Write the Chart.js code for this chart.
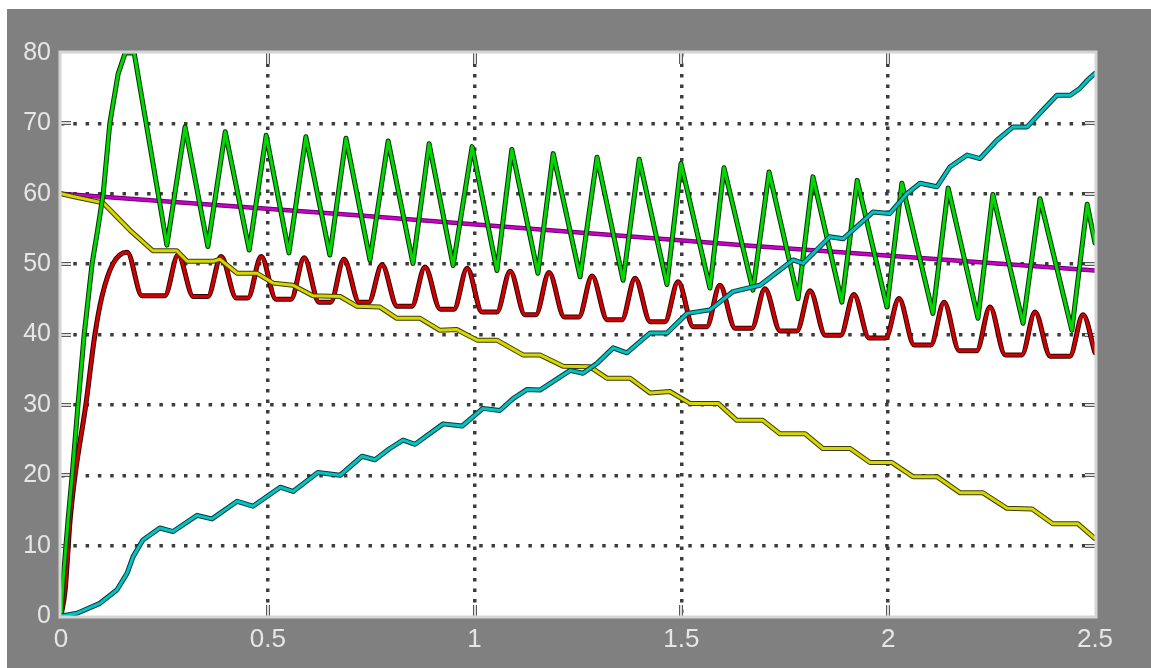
<!DOCTYPE html>
<html>
<head>
<meta charset="utf-8">
<script src="https://cdn.jsdelivr.net/npm/chart.js@4.4.1/dist/chart.umd.min.js"></script>
<style>
html,body{margin:0;padding:0;background:#fff;}
canvas{display:block;}
</style>
</head>
<body>
<canvas id="scope" width="1151" height="668"></canvas>
<script>
// axis ticks
const xTicks=[0,0.5,1,1.5,2,2.5];
const yTicks=[0,10,20,30,40,50,60,70,80];

// green: triangle oscillation
const greenT=[0,0.005,0.017,0.027,0.041,0.056,0.075,0.089,0.102,0.118,0.138,0.155,0.177,
  0.256,0.300,0.355,0.397,0.455,0.496,0.551,0.592,0.650,0.689,0.747,0.791,0.851,0.890,0.948,0.994,
  1.054,1.090,1.153,1.190,1.255,1.296,1.359,1.398,1.465,1.499,1.569,1.603,1.673,1.712,1.782,1.818,
  1.888,1.925,1.997,2.033,2.108,2.145,2.217,2.253,2.326,2.367,2.444,2.481,2.5];
const greenV=[0,5,13.6,20,30,40,50,55,60,70,77,80,80,
  52.7,69.5,52.5,68.8,52.0,68.3,51.6,68.1,51.3,67.9,50.6,67.5,50.1,67.1,49.8,66.7,
  49.1,66.3,48.7,65.7,48.2,65.2,47.7,64.9,47.1,64.3,46.6,63.7,46.3,63.1,45.1,62.4,
  44.6,61.9,43.9,61.5,43.0,60.8,42.3,59.9,41.6,59.3,40.6,58.5,53];

// red: humps with flat bottoms
const redT=[0,0.010,0.022,0.034,0.060,0.082,0.099,0.126,0.160,0.196,0.251,
  0.283,0.320,0.355,0.387,0.424,0.452,0.484,0.520,0.556,0.588,0.624,0.652,0.684,0.721,0.744,
  0.776,0.813,0.848,0.880,0.917,0.950,0.982,1.018,1.054,1.086,1.122,1.148,1.180,1.217,1.252,
  1.284,1.321,1.356,1.388,1.425,1.460,1.492,1.529,1.561,1.593,1.630,1.670,1.702,1.739,1.779,
  1.811,1.848,1.885,1.917,1.954,1.994,2.026,2.063,2.103,2.135,2.172,2.214,2.246,2.283,2.323,
  2.355,2.392,2.439,2.471,2.5];
const redV=[0,3.7,13.6,20,30,40,45.4,50.1,51.7,45.5,45.5,
  51.3,45.4,45.4,51.1,45.2,45.2,51.1,45.0,45.0,50.9,44.6,44.6,50.7,44.6,44.6,
  49.9,44.0,44.0,49.6,43.6,43.6,49.4,43.2,43.2,49.0,42.8,42.8,48.8,42.5,42.5,
  48.3,42.1,42.1,48.0,41.8,41.8,47.5,41.1,41.1,47.0,40.9,40.9,46.5,40.5,40.5,
  46.2,39.9,39.9,45.7,39.5,39.5,45.1,38.5,38.5,44.6,37.7,37.7,43.9,37.1,37.1,
  43.2,36.9,36.9,42.8,37.4];

// magenta: slow linear decay
const magentaT=[0,0.723,1.666,2.5];
const magentaV=[60,56.9,52.6,49.1];

// yellow: stepped decay
const yellowT=[0,0.029,0.102,0.167,0.222,0.280,0.305,0.368,0.384,0.426,0.474,0.513,0.561,0.609,
  0.675,0.716,0.771,0.812,0.868,0.916,0.957,1.006,1.054,1.117,1.158,1.214,1.279,1.320,1.376,
  1.424,1.472,1.521,1.589,1.634,1.697,1.738,1.799,1.842,1.908,1.956,2.009,2.060,2.118,2.174,
  2.229,2.287,2.348,2.398,2.459,2.5];
const yellowV=[60,59.6,58.7,54.8,51.9,51.9,50.4,50.4,50.7,48.7,48.7,47.3,47.0,45.5,
  45.4,44.0,43.9,42.3,42.3,40.6,40.7,39.2,39.2,37.1,37.1,35.5,35.4,33.8,33.8,
  31.7,31.9,30.2,30.2,27.8,27.8,25.9,25.9,23.8,23.8,21.8,21.8,19.8,19.8,17.5,
  17.5,15.3,15.2,13.1,13.1,11];

// cyan: stepped rise
const cyanT=[0,0.039,0.094,0.135,0.160,0.174,0.198,0.239,0.271,0.329,0.365,0.426,0.464,0.530,
  0.561,0.621,0.675,0.728,0.759,0.795,0.827,0.856,0.924,0.970,1.020,1.061,1.093,1.127,1.158,
  1.231,1.262,1.296,1.335,1.368,1.424,1.465,1.514,1.569,1.625,1.690,1.770,1.794,1.859,1.891,
  1.963,2.004,2.045,2.077,2.118,2.149,2.191,2.222,2.263,2.302,2.336,2.374,2.408,2.440,2.464,
  2.481,2.5];
const cyanV=[0,0.4,1.8,3.7,6.1,8.4,10.8,12.5,12.0,14.3,13.8,16.3,15.6,18.3,
  17.7,20.4,20.0,22.7,22.2,23.8,25.0,24.4,27.3,27.0,29.5,29.2,30.9,32.2,32.1,
  34.9,34.5,35.9,38.1,37.4,40.2,40.2,43.0,43.5,46.1,47.0,50.6,50.1,53.9,53.6,
  57.4,57.2,60.0,61.5,61.0,63.8,65.5,65.0,67.6,69.5,69.5,71.9,74.0,74.0,75.0,
  76.1,77.1];

const pts=(t,v)=>t.map((x,i)=>({x:x,y:v[i]}));

// first entry is drawn on top
const traces=[
  {t:cyanT,v:cyanV,core:'#00c4c4',edge:'#063838',w:3},
  {t:greenT,v:greenV,core:'#00d800',edge:'#053005',w:3},
  {t:yellowT,v:yellowV,core:'#d6d600',edge:'#3c3c00',w:3},
  {t:redT,v:redV,core:'#d20000',edge:'#300000',w:3,smooth:true},
  {t:magentaT,v:magentaV,core:'#cc00cc',edge:'#6a006a',w:2.5}
];

const datasets=[];
traces.forEach((s,k)=>{
  const common={data:pts(s.t,s.v),pointRadius:0,tension:0,borderJoinStyle:'round',borderCapStyle:'round',
    cubicInterpolationMode:s.smooth?'monotone':'default'};
  datasets.push(Object.assign({},common,{borderColor:s.core,borderWidth:s.w,order:2*k}));
  datasets.push(Object.assign({},common,{borderColor:s.edge,borderWidth:s.w+2,order:2*k+1}));
});

const frame={
  id:'frame',
  beforeDraw(chart){
    const c=chart.ctx,a=chart.chartArea;
    c.save();
    c.fillStyle='#fff';c.fillRect(0,0,chart.width,chart.height);
    c.fillStyle='#808080';c.fillRect(7,9,chart.width-7,chart.height-9);
    c.fillStyle='#fff';c.fillRect(a.left,a.top,a.right-a.left,a.bottom-a.top);
    c.restore();
  },
  beforeDatasetsDraw(chart){
    const c=chart.ctx,a=chart.chartArea,sx=chart.scales.x,sy=chart.scales.y;
    c.save();
    const tick=(x1,y1,x2,y2)=>{
      c.lineCap='butt';
      c.strokeStyle='#5a5a5a';c.lineWidth=4;
      c.beginPath();c.moveTo(x1,y1);c.lineTo(x2,y2);c.stroke();
      c.strokeStyle='#dcdcdc';c.lineWidth=2;
      c.beginPath();c.moveTo(x1,y1);c.lineTo(x2,y2);c.stroke();
    };
    xTicks.slice(1,-1).forEach(v=>{
      const px=Math.round(sx.getPixelForValue(v));
      tick(px,a.bottom,px,a.bottom-11);
      tick(px,a.top,px,a.top+11);
    });
    yTicks.slice(1,-1).forEach(v=>{
      const py=Math.round(sy.getPixelForValue(v));
      tick(a.left,py,a.left+10,py);
      tick(a.right,py,a.right-10,py);
    });
    c.restore();
  },
  afterDraw(chart){
    const c=chart.ctx,a=chart.chartArea;
    c.save();
    c.strokeStyle='#d4d4d4';c.lineWidth=3;
    c.strokeRect(a.left-1,a.top-1,a.right-a.left+2,a.bottom-a.top+2);
    c.restore();
  }
};

// dotted grid; the outermost lines are left to the frame
const dotted=(edge)=>({
  drawTicks:false,
  lineWidth:3.5,
  color:ctx=>(ctx.tick&&edge.includes(ctx.tick.value))?'rgba(0,0,0,0)':'#3c3c3c'
});

new Chart(document.getElementById('scope'),{
  type:'line',
  data:{datasets:datasets},
  plugins:[frame],
  options:{
    responsive:false,
    animation:false,
    devicePixelRatio:1,
    layout:{padding:{left:0,top:53,right:56,bottom:0}},
    plugins:{legend:{display:false},tooltip:{enabled:false}},
    scales:{
      x:{
        type:'linear',min:0,max:2.5,
        afterBuildTicks:s=>{s.ticks=xTicks.map(v=>({value:v}));},
        afterFit:s=>{s.height=52;},
        grid:dotted([0,2.5]),
        border:{display:false,dash:[3.5,7]},
        ticks:{color:'#e6e6e6',padding:8,font:{family:'Liberation Sans',size:26},maxRotation:0,
          callback:v=>String(v)}
      },
      y:{
        type:'linear',min:0,max:80,
        afterBuildTicks:s=>{s.ticks=yTicks.map(v=>({value:v}));},
        afterFit:s=>{s.width=61;},
        grid:dotted([0,80]),
        border:{display:false,dash:[3.5,8.8]},
        ticks:{color:'#e6e6e6',padding:10,font:{family:'Liberation Sans',size:25},
          callback:v=>String(v)}
      }
    }
  }
});
</script>
</body>
</html>
